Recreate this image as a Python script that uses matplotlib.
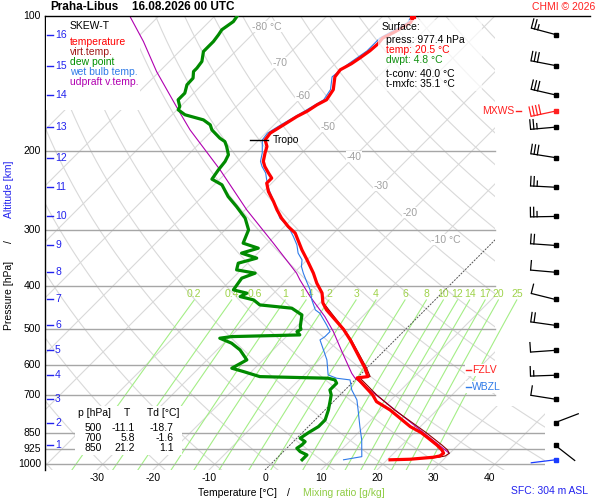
import numpy as np
import matplotlib
matplotlib.use("Agg")
import matplotlib.pyplot as plt
from matplotlib.patches import Polygon, Rectangle
from matplotlib.ticker import NullLocator

plt.rcParams['font.family'] = ['Liberation Sans', 'DejaVu Sans']
plt.rcParams['font.size'] = 7.5

# ---------------- data ----------------
STATION = "Praha-Libus"
DATE_STR = "16.08.2026 00 UTC"

# temperature profile (hPa, degC)
T_P = [977.4, 974.6, 964.7, 958.2, 945.0, 929.1, 905.6, 874.9, 850.0, 824.3, 756.5, 724.9, 700.0,
       641.8, 637.5, 609.6, 528.0, 500.0, 452.5, 436.5, 415.0, 394.5, 374.7, 350.0, 332.5, 305.0,
       295.0, 282.5, 270.7, 259.4, 246.4, 236.0, 230.0, 224.0, 216.7, 211.0, 202.0, 195.5, 189.0,
       182.5, 175.0, 167.6, 163.0, 157.8, 153.8, 146.0, 136.7, 131.8, 127.8, 124.0, 119.6, 115.3,
       112.0, 108.4, 103.5, 100.4]
T_T = [20.5, 24.0, 27.8, 28.7, 28.9, 28.0, 26.2, 23.5, 21.2, 18.2, 11.6, 7.7, 5.8,
       0.0, 1.7, -0.4, -8.0, -11.1, -17.6, -19.5, -21.4, -24.1, -26.5, -30.0, -32.7, -36.9,
       -39.3, -42.0, -44.3, -46.4, -49.1, -50.9, -50.9, -52.4, -54.2, -55.4, -56.6, -57.4, -58.9,
       -59.2, -58.3, -57.4, -56.5, -55.9, -55.1, -55.7, -57.7, -58.0, -57.1, -56.6, -56.1, -55.9,
       -56.1, -55.0, -53.9, -54.3]

# virtual temperature (lower part, above it coincides with T)
TV_P = [977.4, 964.7, 958.2, 945.0, 929.1, 905.6, 850.0, 756.5, 700.0, 641.8, 637.5, 609.6, 528.0, 500.0, 436.5]
TV_T = [21.3, 28.7, 29.7, 29.9, 29.0, 27.1, 22.1, 12.4, 6.5, 0.5, 2.1, -0.1, -7.8, -11.0, -19.4]

# dew point profile
TD_P = [977.4, 953.3, 937.3, 921.1, 905.6, 890.4, 874.9, 860.2, 850.0, 824.3, 796.4, 756.5, 724.9,
        700.0, 682.7, 671.1, 659.5, 648.4, 642.8, 637.5, 621.3, 610.6, 585.1, 555.8, 537.0, 523.4,
        519.1, 514.6, 505.9, 500.0, 493.1, 464.3, 448.6, 441.1, 429.9, 422.6, 415.3, 408.3, 384.5,
        374.7, 368.4, 356.0, 346.9, 338.1, 329.6, 321.2, 300.0, 282.5, 266.2, 252.8, 238.0, 231.2,
        220.4, 211.2, 204.0, 195.5, 190.6, 187.3, 179.5, 174.9, 170.5, 166.1, 161.9, 159.2, 153.8,
        148.6, 142.4, 137.6, 133.0, 130.7, 126.3, 120.0, 116.9, 114.0, 110.1, 107.3, 102.9, 100.0]
TD_T = [4.8, 4.8, 3.0, 1.8, 2.1, 2.1, 0.6, 0.9, 1.1, 1.8, 1.8, 0.6, -0.6,
        -1.6, -2.7, -2.7, -2.7, -3.6, -5.1, -17.6, -21.4, -24.1, -22.9, -25.9, -28.6, -31.6,
        -29.8, -17.9, -19.0, -18.7, -19.3, -21.1, -24.1, -30.4, -32.4, -35.4, -34.8, -37.8, -38.4,
        -36.9, -40.8, -41.7, -39.3, -42.9, -40.8, -44.4, -45.8, -48.5, -52.1, -55.4, -58.6, -61.4,
        -61.9, -62.2, -62.8, -64.6, -65.8, -67.3, -70.2, -71.4, -73.5, -77.7, -79.8, -80.1, -81.6,
        -81.6, -82.7, -82.8, -83.9, -83.9, -84.2, -85.7, -85.7, -85.7, -86.0, -86.3, -85.7, -86.0]

# wet bulb temperature
TW_P = [977.4, 961.7, 882.6, 824.3, 756.5, 718.6, 682.7, 648.4, 642.8, 632.0, 585.1, 555.8, 528.0,
        519.1, 505.9, 488.8, 460.3, 452.5, 429.9, 408.3, 391.3, 374.7, 362.3, 350.0, 338.1, 324.0,
        310.5, 300.0, 289.9, 282.5, 270.7, 252.8, 242.1, 232.0, 224.0, 216.7, 211.0, 202.0, 189.0,
        182.5, 175.0, 163.0, 153.8, 146.0, 136.7, 127.8, 119.6, 112.0, 103.5, 100.4]
TW_T = [12.2, 14.9, 11.9, 9.2, 5.9, 3.9, 1.2, -0.9, -3.6, -5.7, -8.6, -11.0, -13.4,
        -13.1, -13.1, -14.9, -18.2, -19.6, -22.0, -24.1, -26.2, -28.3, -29.8, -30.9, -32.8, -34.5,
        -36.6, -38.4, -40.5, -42.3, -44.3, -47.6, -49.7, -51.5, -52.9, -54.7, -55.9, -57.1, -59.4,
        -59.7, -58.8, -57.0, -55.6, -56.2, -58.2, -57.6, -56.6, -56.6, -54.4, -54.8]

# updraft (parcel) virtual temperature
UP_P = [945.0, 897.7, 730.9, 642.8, 626.5, 560.7, 505.9, 468.4, 422.6, 387.9, 374.7, 321.2,
        270.7, 220.4, 179.5, 161.9, 133.0, 114.0, 100.0]
UP_T = [29.9, 25.9, 9.8, -0.3, -1.8, -7.4, -12.5, -16.7, -22.9, -27.7, -29.5, -39.0,
        -49.7, -61.6, -74.1, -79.8, -90.5, -98.2, -105.2]

# winds at 1..16 km, surface and max wind
KM_LABELS = list(range(1, 17))
KM_P = [908, 807, 716, 633, 557, 490, 429, 373, 325, 280, 241, 207, 177, 150, 129, 110]
KM_DIR = [128, 69, 279, 268, 266, 278, 284, 275, 274, 269, 273, 279, 265, 283, 281, 285]
KM_SPD = [2, 3, 10, 15, 10, 20, 10, 10, 20, 25, 25, 30, 25, 30, 30, 25]
SFC_P, SFC_T, SFC_TD = 977.4, 20.5, 4.8
SFC_DIR, SFC_SPD = 263, 2
MXWS_P, MXWS_DIR, MXWS_SPD = 163.0, 258, 40
T_CONV, T_MXFC = 40.0, 35.1
SFC_ELEV = 304

TROPO_P, TROPO_T = 189.0, -58.9
FZLV_P, WBZL_P = 616.0, 671.0

TABLE_P = [500, 700, 850]
TABLE_T = [-11.1, 5.8, 21.2]
TABLE_TD = [-18.7, -1.6, 1.1]

P_LABELS = [100, 200, 300, 400, 500, 600, 700, 850, 925, 1000]
T_LABELS = [-30, -20, -10, 0, 10, 20, 30, 40]
MR_VALUES = [0.2, 0.4, 0.6, 1, 1.4, 2, 3, 4, 6, 8, 10, 12, 14, 17, 20, 25]
ISO_LAB_T = [-80, -70, -60, -50, -40, -30, -20, -10]
ISO_LAB_P = [105.6, 127.2, 150.7, 176.7, 206.0, 239.3, 274.9, 315.8]

# ---------------- geometry ----------------
P_BOT, P_TOP = 1030.0, 100.0
SKEW = 194.6 / 5.6
XMIN, XMAX = -39.29, 50.0
P_STEP = 740.0


def skx(t, p):
    return np.asarray(t, dtype=float) + SKEW * np.log(P_BOT / np.asarray(p, dtype=float))


def td_from_w(w, p):
    e = w * p / (622.0 + w)
    l = np.log(e / 6.112)
    return 243.5 * l / (17.67 - l)


fig = plt.figure(figsize=(6, 5), dpi=100)
fig.patch.set_facecolor('white')
ax = fig.add_axes([45 / 600, 30 / 500, 500 / 600, 454 / 500])
ax.set_yscale('log')
ax.set_xlim(XMIN, XMAX)
ax.set_ylim(P_BOT, P_TOP)
for s in ['top', 'right', 'bottom']:
    ax.spines[s].set_visible(False)
ax.spines['left'].set_linewidth(1.0)
ax.yaxis.set_major_locator(NullLocator())
ax.yaxis.set_minor_locator(NullLocator())
ax.xaxis.set_major_locator(NullLocator())
ax.tick_params(which='both', left=False, bottom=False, labelleft=False, labelbottom=False)

ov = fig.add_axes([0, 0, 1, 1], zorder=5)
ov.set_xlim(0, 600)
ov.set_ylim(500, 0)
ov.axis('off')


def topx(x, p):
    d = ax.transData.transform((x, p))
    return ov.transData.inverted().transform(d)


fstep = np.log(P_BOT / P_STEP) / np.log(P_BOT / P_TOP)
clip = Polygon([(0, 0), (1, 0), (1, fstep), (0.9, fstep), (0.9, 1), (0, 1)], closed=True,
               transform=ax.transAxes, facecolor='none', edgecolor='none')
ax.add_patch(clip)

pp = np.geomspace(P_BOT, P_TOP, 200)
# isotherms
for t in range(-140, 60, 10):
    if t == 0:
        ln, = ax.plot(skx(t, pp), pp, color='#555555', lw=0.7, ls=(0, (2, 1.2)), zorder=2)
    else:
        ln, = ax.plot(skx(t, pp), pp, color='#d9d9d9', lw=0.8, zorder=1)
    ln.set_clip_path(clip)
# dry adiabats
for th in range(-40, 260, 10):
    tt = (th + 273.15) * (pp / 1000.0) ** 0.2857 - 273.15
    ln, = ax.plot(skx(tt, pp), pp, color='#d9d9d9', lw=0.8, zorder=1)
    ln.set_clip_path(clip)
# mixing ratio lines
pm = np.geomspace(P_BOT, 430.0, 60)
for w in MR_VALUES:
    ax.plot(skx(td_from_w(w, pm), pm), pm, color='#a4ee86', lw=0.8, zorder=1.5)
    xl = skx(td_from_w(w, 430.0), 430.0)
    lab = ('%g' % w)
    ax.annotate(lab, xy=(xl, 430.0), xytext=(0, 4.6), textcoords='offset points',
                ha='center', va='center', color='#9fd34a', fontsize=7.5, annotation_clip=False,
                zorder=3)

# pressure lines
for p in P_LABELS[1:]:
    xmax = 1.0 if p > P_STEP else 0.9
    ax.axhline(p, xmin=0, xmax=xmax, color='#a6a6a6', lw=1.0, zorder=2)
ax.plot([0, 1.09], [1, 1], transform=ax.transAxes, color='black', lw=1.0, clip_on=False, zorder=6)

# isotherm labels
for t, p in zip(ISO_LAB_T, ISO_LAB_P):
    txt = '%d °C' % t if t in (-80, -10) else '%d' % t
    off = -5.8 if t in (-80, -10) else 0
    ax.annotate(txt, xy=(float(skx(t, p)), p), xytext=(off, 0), textcoords='offset points',
                ha='left' if off else 'center', va='center', color='#a0a0a0', fontsize=7.5,
                zorder=2.5, bbox=dict(facecolor='white', edgecolor='none', pad=0.3))

# boxes (in pixel coordinates of the overlay)
ax.add_patch(Rectangle((46, 17), 94, 93, transform=ov.transData, facecolor='white',
                       edgecolor='none', zorder=3, clip_on=False))
ax.add_patch(Rectangle((75, 406), 107, 49, transform=ov.transData, facecolor='white',
                       edgecolor='none', zorder=3, clip_on=False))
ax.add_patch(Rectangle((378, 20), 104, 71, transform=ov.transData, facecolor='white',
                       edgecolor='none', alpha=0.72, zorder=8, clip_on=False))

# profiles
ax.plot(skx(UP_T, UP_P), UP_P, color='#b000b0', lw=0.8, zorder=4)
ax.plot(skx(TV_T, TV_P), TV_P, color='#8b0000', lw=0.8, zorder=4.5)
ax.plot(skx(TW_T, TW_P), TW_P, color='#2f7be8', lw=0.8, zorder=5)
ax.plot(skx(T_T, T_P), T_P, color='#ff0000', lw=2.3, zorder=6, solid_joinstyle='round')
ax.plot(skx(TD_T, TD_P), TD_P, color='#008a00', lw=2.3, zorder=6, solid_joinstyle='round')
ax.plot([float(skx(TW_T[-1], TW_P[-1])), float(skx(T_T[-1], T_P[-1]))], [TW_P[-1], T_P[-1]],
        color='#ff0000', lw=2.3, zorder=6)

# tropopause
xt = float(skx(TROPO_T, TROPO_P))
ax.plot([xt - 2.7, xt + 0.6], [TROPO_P, TROPO_P], color='black', lw=1.0, zorder=7)
ax.text(xt + 1.4, TROPO_P, 'Tropo', ha='left', va='center', fontsize=7.5, zorder=7)

# ---------------- overlay texts ----------------
ov.text(50, 7, STATION, fontsize=8.5, fontweight='bold', ha='left', va='center')
ov.text(132, 7, DATE_STR, fontsize=8.5, fontweight='bold', ha='left', va='center')
ov.text(595, 7, 'CHMI © 2026', color='#ff2020', ha='right', va='center')

for p in P_LABELS:
    y = topx(0, p)[1]
    ov.text(41, y, str(p), ha='right', va='center')

for km, p in zip(KM_LABELS, KM_P):
    y = topx(0, p)[1]
    ov.plot([47, 53], [y, y], color='#2222ee', lw=1.0)
    ov.text(55, y, str(km), color='#2222ee', ha='left', va='center')

for t in T_LABELS:
    x = topx(float(skx(t, P_BOT)), P_BOT)[0]
    ov.text(x, 478, str(t), ha='center', va='center')

ov.text(237, 493, 'Temperature [°C]', ha='center', va='center')
ov.text(288, 493, '/', ha='center', va='center')
ov.text(344, 493, 'Mixing ratio [g/kg]', ha='center', va='center', color='#8fcc44')
ov.text(588, 491, 'SFC: %d m ASL' % SFC_ELEV, ha='right', va='center', color='#2222ee')

ov.text(9, 295, 'Pressure [hPa]', rotation=90, ha='center', va='center')
ov.text(9, 242, '/', rotation=90, ha='center', va='center')
ov.text(9, 189, 'Altitude [km]', rotation=90, ha='center', va='center', color='#2222ee')

# legend
ov.text(70, 26, 'SKEW-T', ha='left', va='center')
leg = [('temperature', '#ff0000'), ('virt.temp.', '#a01818'), ('dew point', '#009000'),
       ('wet bulb temp.', '#2f7be8'), ('udpraft v.temp.', '#b000b0')]
for i, (s, c) in enumerate(leg):
    ov.text(70, 42.3 + 9.85 * i, s, color=c, ha='left', va='center')

# surface box
ov.text(382, 27, 'Surface:', ha='left', va='center')
ov.text(386, 40, 'press: %.1f hPa' % SFC_P, ha='left', va='center')
ov.text(386, 50, 'temp: %.1f °C' % SFC_T, ha='left', va='center', color='#ff0000')
ov.text(386, 60, 'dwpt: %.1f °C' % SFC_TD, ha='left', va='center', color='#109010')
ov.text(386, 74, 't-conv: %.1f °C' % T_CONV, ha='left', va='center')
ov.text(386, 84, 't-mxfc: %.1f °C' % T_MXFC, ha='left', va='center')

# table
ov.text(78, 413, 'p [hPa]', ha='left', va='center')
ov.text(127, 413, 'T', ha='center', va='center')
ov.text(147, 413, 'Td [°C]', ha='left', va='center')
for i, (p, t, td) in enumerate(zip(TABLE_P, TABLE_T, TABLE_TD)):
    y = 428.3 + 10 * i
    ov.text(102, y, str(p), ha='right', va='center')
    ov.text(135, y, '%.1f' % t, ha='right', va='center')
    ov.text(173.5, y, '%.1f' % td, ha='right', va='center')

# FZLV / WBZL
for p, lab, c in [(FZLV_P, 'FZLV', '#ff2020'), (WBZL_P, 'WBZL', '#2f7be8')]:
    y = topx(0, p)[1]
    ov.add_patch(Rectangle((465, y - 6), 42, 12, facecolor='white', edgecolor='none'))
    ov.plot([466, 471], [y, y], color=c, lw=1.0)
    ov.text(472, y, lab, color=c, ha='left', va='center')


# wind barbs
def draw_barb(sx, sy, direction, speed, color, L=25.0, flen=9.5, fsp=3.3):
    d = np.deg2rad(direction)
    ux, uy = np.sin(d), -np.cos(d)
    ex, ey = sx + L * ux, sy + L * uy
    ov.plot([sx, ex], [sy, ey], color=color, lw=0.9, solid_capstyle='butt')
    fx, fy = -uy, ux
    n_full = int(speed // 10)
    half = (speed - 10 * n_full) >= 5
    pos = 0.0
    for _ in range(n_full):
        bx, by = ex - pos * ux, ey - pos * uy
        ov.plot([bx, bx + flen * fx], [by, by + flen * fy], color=color, lw=0.9)
        pos += fsp
    if half:
        if n_full == 0:
            pos += fsp
        bx, by = ex - pos * ux, ey - pos * uy
        ov.plot([bx, bx + 0.55 * flen * fx], [by, by + 0.55 * flen * fy], color=color, lw=0.9)
    ov.plot([sx], [sy], marker='s', ms=2.3, color=color, mec=color)


BX = 555.5
for p, dd, sp in zip(KM_P, KM_DIR, KM_SPD):
    draw_barb(BX, topx(0, p)[1], dd, sp, 'black')
draw_barb(BX, topx(0, SFC_P)[1], SFC_DIR, SFC_SPD, '#1a3cff')
ym = topx(0, MXWS_P)[1]
draw_barb(BX, ym, MXWS_DIR, MXWS_SPD, '#ff2020')
ov.text(482, ym, 'MXWS', color='#ff2020', ha='left', va='center')
ov.plot([516, 521], [ym, ym], color='#ff2020', lw=1.0)

fig.savefig('out.png', dpi=100, facecolor='white')
